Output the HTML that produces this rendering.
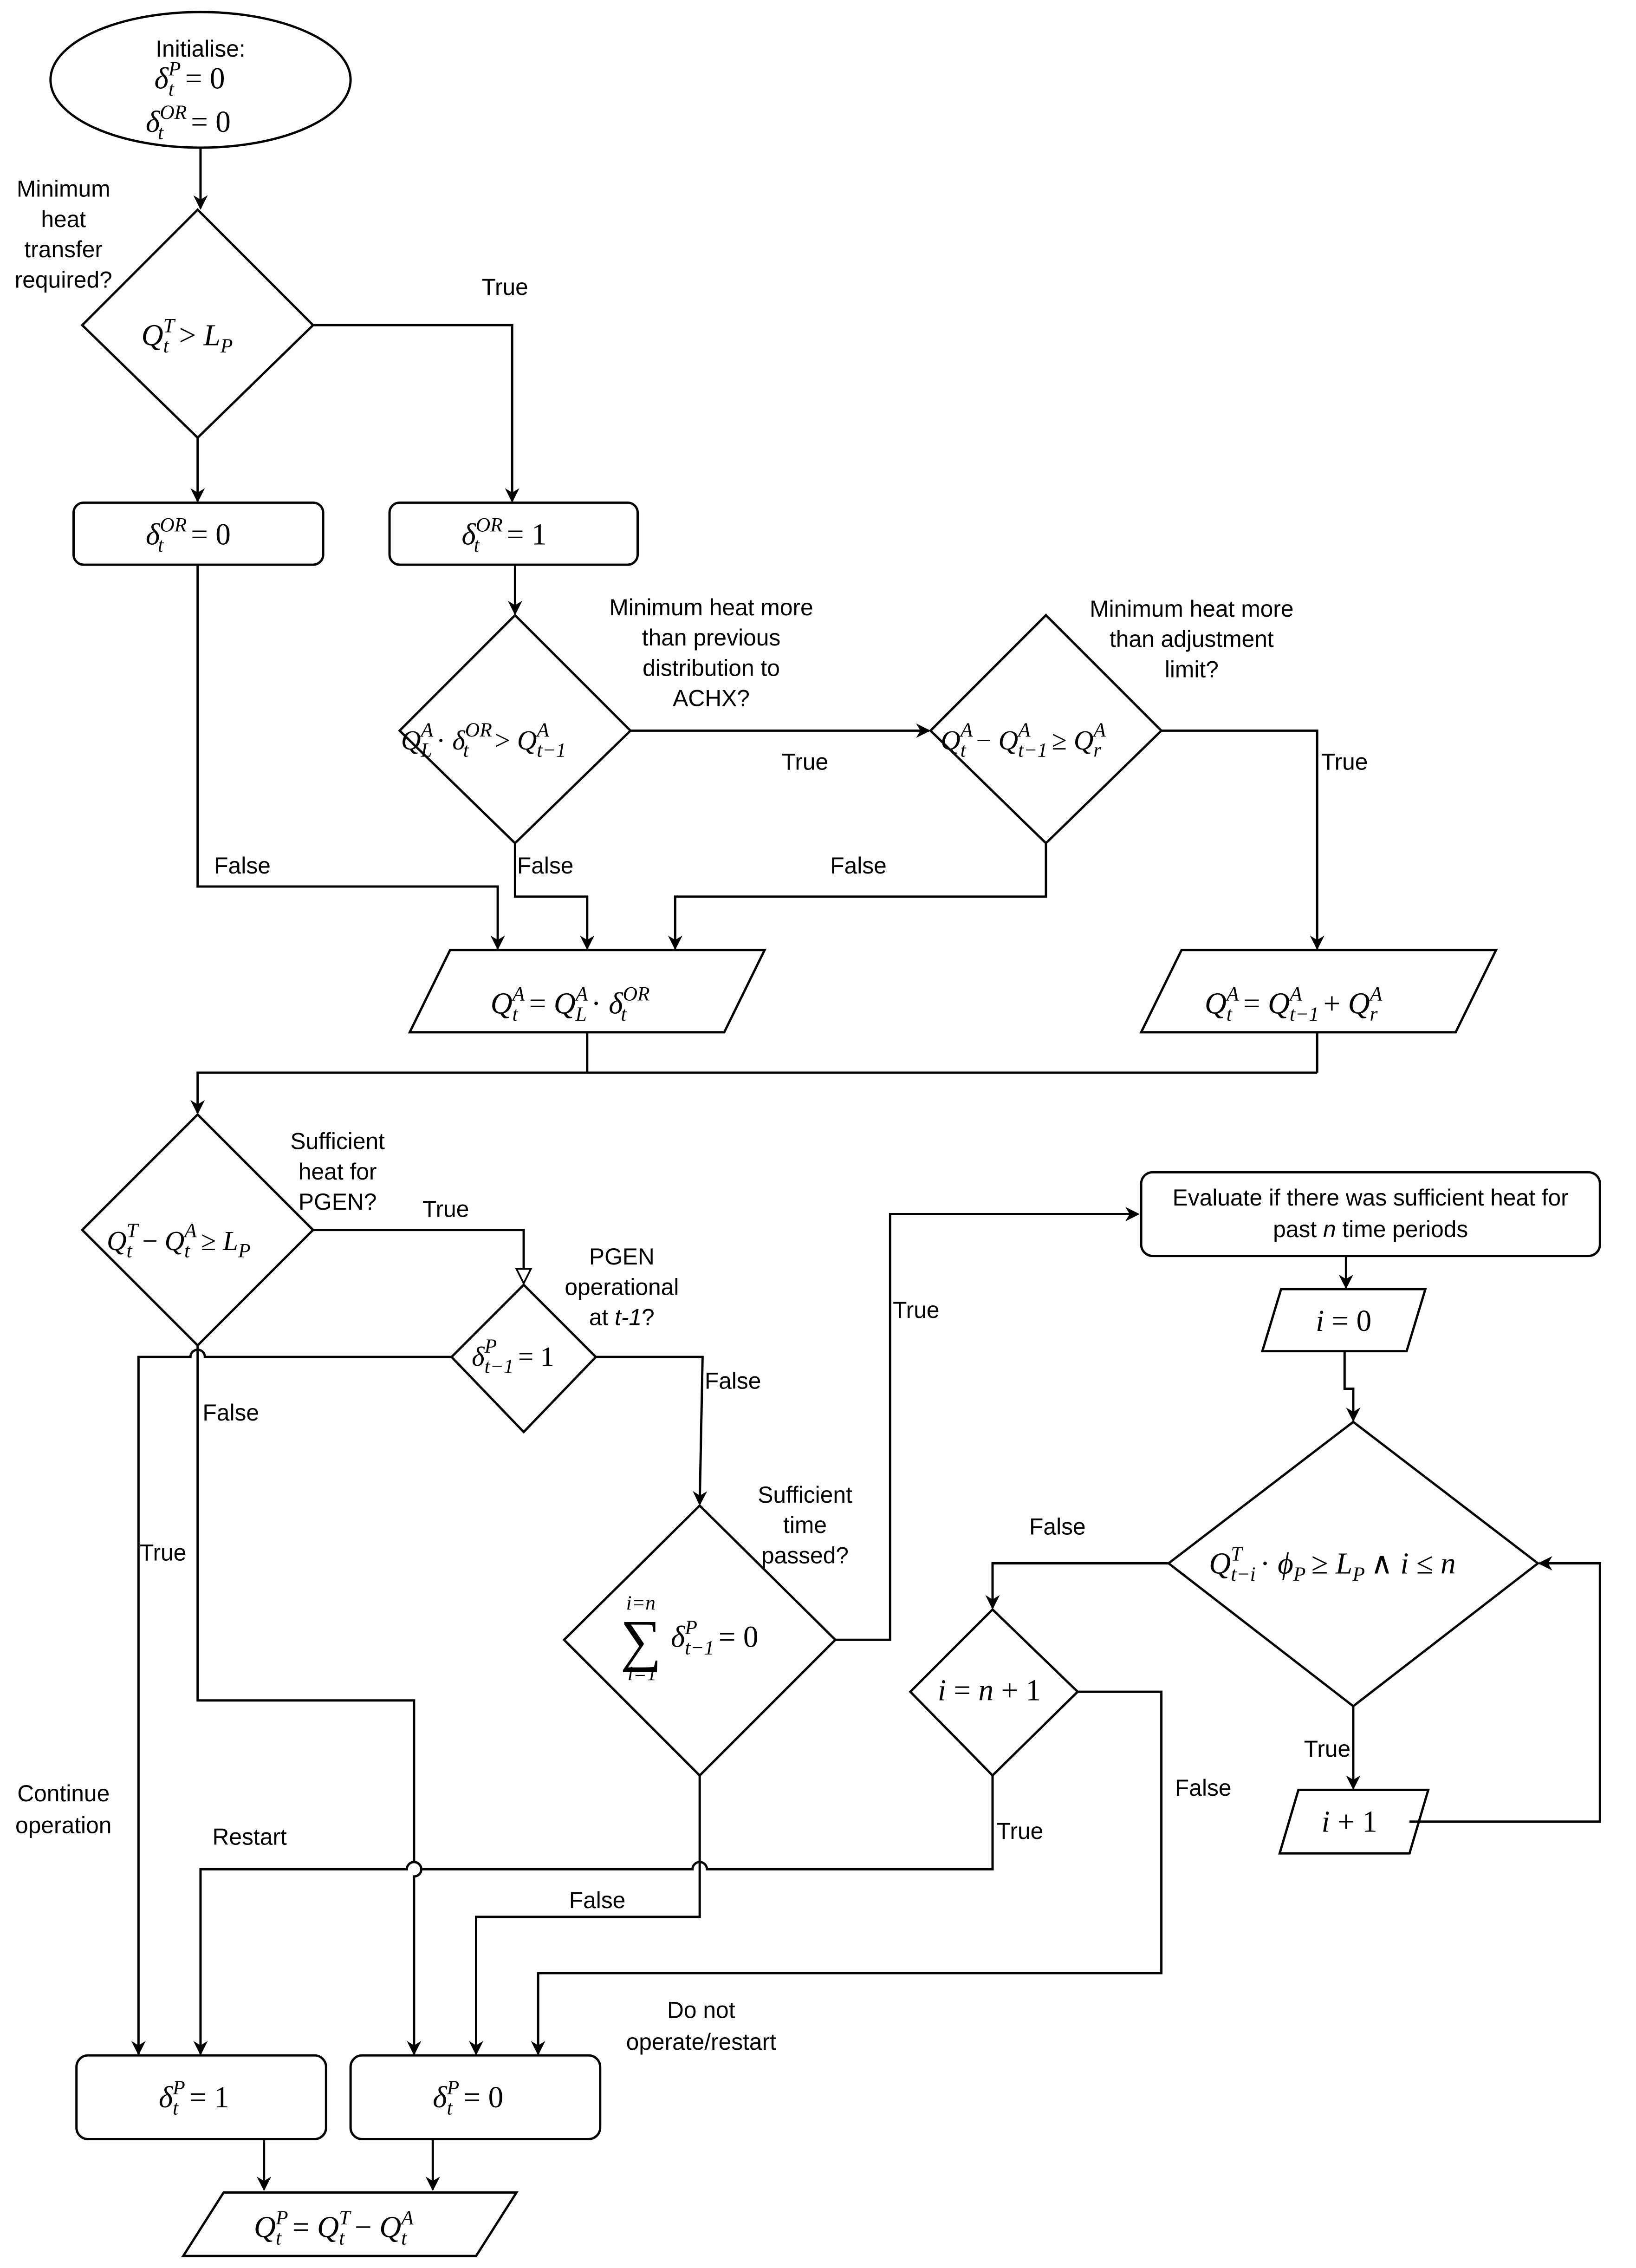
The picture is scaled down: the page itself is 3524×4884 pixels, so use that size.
<!DOCTYPE html>
<html><head><meta charset="utf-8">
<style>
html,body{margin:0;padding:0;background:#fff;}
svg{display:block;}
.s{font-family:"Liberation Sans",sans-serif;font-size:16px;fill:#000;}
.m{font-family:"Liberation Serif",serif;font-size:21px;fill:#000;}
.i{font-style:italic;}
.sm{font-size:14px;}
</style></head>
<body>
<svg width="3524" height="4884" viewBox="0 0 1134 1571" xmlns="http://www.w3.org/2000/svg">
<defs>
<marker id="a" markerWidth="10" markerHeight="10" refX="9" refY="5" orient="auto" markerUnits="userSpaceOnUse">
<path d="M0,0 L10,5 L0,10 L3,5 Z" fill="#000"/></marker>
<marker id="h" markerWidth="12" markerHeight="12" refX="11" refY="6" orient="auto" markerUnits="userSpaceOnUse">
<path d="M1,1 L11,6 L1,11 Z" fill="#fff" stroke="#000" stroke-width="1.2"/></marker>
</defs>
<rect width="1134" height="1571" fill="#fff"/>
<g fill="#fff" stroke="#000" stroke-width="1.6">
<ellipse cx="139" cy="55" rx="104" ry="47"/>
<polygon points="137,145 217,225 137,303 57,225"/>
<rect x="51" y="348" width="173" height="43" rx="7"/>
<rect x="270" y="348" width="172" height="43" rx="7"/>
<polygon points="357,426 437,506 357,584 277,506"/>
<polygon points="725,426 805,506 725,584 645,506"/>
<polygon points="312,658 530,658 502,715 284,715"/>
<polygon points="819,658 1037,658 1009,715 791,715"/>
<polygon points="137,772 217,852 137,932 57,852"/>
<polygon points="363,890 413,940 363,992 313,940"/>
<polygon points="485,1043 579,1136 485,1230 391,1136"/>
<rect x="791" y="812" width="318" height="58" rx="8"/>
<polygon points="888,893 988,893 975,936 875,936"/>
<polygon points="938,985 1066,1083 938,1182 810,1083"/>
<polygon points="688,1115 747,1172 688,1230 631,1172"/>
<polygon points="900,1240 990,1240 977,1284 887,1284"/>
<rect x="53" y="1424" width="173" height="58" rx="8"/>
<rect x="243" y="1424" width="173" height="58" rx="8"/>
<polygon points="155,1519 358,1519 330,1563 127,1563"/>
</g>
<g fill="none" stroke="#000" stroke-width="1.6">
<path d="M139,102 V144" marker-end="url(#a)"/>
<path d="M217,225 H355 V347" marker-end="url(#a)"/>
<path d="M137,303 V347" marker-end="url(#a)"/>
<path d="M137,391 V614 H345 V657" marker-end="url(#a)"/>
<path d="M357,391 V425" marker-end="url(#a)"/>
<path d="M437,506 H644" marker-end="url(#a)"/>
<path d="M805,506 H913 V657" marker-end="url(#a)"/>
<path d="M725,584 V621 H468 V657" marker-end="url(#a)"/>
<path d="M357,584 V621 H407 V657" marker-end="url(#a)"/>
<path d="M407,715 V743 M913,715 V743 M913,743 H137 V771" marker-end="url(#a)"/>
<path d="M217,852 H363 V889" marker-end="url(#h)"/>
<path d="M313,940 H142 a5,5 0 0 0 -10,0 H96 V1423" marker-end="url(#a)"/>
<path d="M137,932 V1178 H287 V1290 a5,5 0 0 1 0,10 V1423" marker-end="url(#a)"/>
<path d="M413,940 H487 L485,1042" marker-end="url(#a)"/>
<path d="M579,1136 H617 V841 H789" marker-end="url(#a)"/>
<path d="M933,870 V892" marker-end="url(#a)"/>
<path d="M932,936 V962 H938 V984" marker-end="url(#a)"/>
<path d="M810,1083 H688 V1114" marker-end="url(#a)"/>
<path d="M938,1182 V1239" marker-end="url(#a)"/>
<path d="M977,1262 H1109 V1083 H1067" marker-end="url(#a)"/>
<path d="M747,1172 H805 V1367 H373 V1423" marker-end="url(#a)"/>
<path d="M688,1230 V1295 H490 a5,5 0 0 0 -10,0 H292 a5,5 0 0 0 -10,0 H139 V1423" marker-end="url(#a)"/>
<path d="M485,1230 V1328 H330 V1423" marker-end="url(#a)"/>
<path d="M183,1482 V1517" marker-end="url(#a)"/>
<path d="M300,1482 V1517" marker-end="url(#a)"/>
</g>
<g class="s" text-anchor="middle">
<text x="139" y="39">Initialise:</text>
<text x="44" y="136">Minimum</text><text x="44" y="157">heat</text><text x="44" y="178">transfer</text><text x="44" y="199">required?</text>
<text x="350" y="204">True</text>
<text x="493" y="426">Minimum heat more</text><text x="493" y="447">than previous</text><text x="493" y="468">distribution to</text><text x="493" y="489">ACHX?</text>
<text x="826" y="427">Minimum heat more</text><text x="826" y="448">than adjustment</text><text x="826" y="469">limit?</text>
<text x="558" y="533">True</text><text x="932" y="533">True</text>
<text x="168" y="605">False</text><text x="378" y="605">False</text><text x="595" y="605">False</text>
<text x="234" y="796">Sufficient</text><text x="234" y="817">heat for</text><text x="234" y="838">PGEN?</text>
<text x="309" y="843">True</text>
<text x="431" y="876">PGEN</text><text x="431" y="897">operational</text><text x="431" y="918">at <tspan font-style="italic">t-1</tspan>?</text>
<text x="508" y="962">False</text><text x="160" y="984">False</text>
<text x="635" y="913">True</text>
<text x="558" y="1041">Sufficient</text><text x="558" y="1062">time</text><text x="558" y="1083">passed?</text>
<text x="113" y="1081">True</text>
<text x="733" y="1063">False</text>
<text x="920" y="1217">True</text><text x="834" y="1244">False</text><text x="707" y="1274">True</text>
<text x="44" y="1248">Continue</text><text x="44" y="1270">operation</text>
<text x="173" y="1278">Restart</text>
<text x="414" y="1322">False</text>
<text x="486" y="1398">Do not</text><text x="486" y="1420">operate/restart</text>
<text x="950" y="835">Evaluate if there was sufficient heat for</text>
<text x="950" y="857">past <tspan font-style="italic">n</tspan> time periods</text>
</g>
<g class="m">
<text x="107" y="61"><tspan class="i">δ</tspan><tspan class="sm i" dy="-9">P</tspan><tspan class="sm i" dx="-8.6" dy="14">t</tspan><tspan dx="7.7" dy="-5">= 0</tspan></text>
<text x="101" y="91"><tspan class="i">δ</tspan><tspan class="sm i" dy="-9">OR</tspan><tspan class="sm i" dx="-20" dy="14">t</tspan><tspan dx="19" dy="-5">= 0</tspan></text>
<text x="98" y="239"><tspan class="i">Q</tspan><tspan class="sm i" dy="-9">T</tspan><tspan class="sm i" dx="-7.8" dy="14">t</tspan><tspan dx="7" dy="-5">&gt; </tspan><tspan class="i">L</tspan><tspan class="sm i" dy="5">P</tspan></text>
<text x="101" y="377"><tspan class="i">δ</tspan><tspan class="sm i" dy="-9">OR</tspan><tspan class="sm i" dx="-20" dy="14">t</tspan><tspan dx="19" dy="-5">= 0</tspan></text>
<text x="320" y="377"><tspan class="i">δ</tspan><tspan class="sm i" dy="-9">OR</tspan><tspan class="sm i" dx="-20" dy="14">t</tspan><tspan dx="19" dy="-5">= 1</tspan></text>
<text x="278" y="519" font-size="19"><tspan class="i">Q</tspan><tspan class="sm i" dy="-9">A</tspan><tspan class="sm i" dx="-8.6" dy="14">L</tspan><tspan dx="3" dy="-5">· </tspan><tspan class="i">δ</tspan><tspan class="sm i" dy="-9">OR</tspan><tspan class="sm i" dx="-20" dy="14">t</tspan><tspan dx="18" dy="-5">&gt; </tspan><tspan class="i">Q</tspan><tspan class="sm i" dy="-9">A</tspan><tspan class="sm i" dx="-8.6" dy="14">t−1</tspan></text>
<text x="652" y="519" font-size="19"><tspan class="i">Q</tspan><tspan class="sm i" dy="-9">A</tspan><tspan class="sm i" dx="-8.6" dy="14">t</tspan><tspan dx="7" dy="-5">− </tspan><tspan class="i">Q</tspan><tspan class="sm i" dy="-9">A</tspan><tspan class="sm i" dx="-8.6" dy="14">t−1</tspan><tspan dx="3" dy="-5">≥ </tspan><tspan class="i">Q</tspan><tspan class="sm i" dy="-9">A</tspan><tspan class="sm i" dx="-8.6" dy="14">r</tspan></text>
<text x="340" y="702"><tspan class="i">Q</tspan><tspan class="sm i" dy="-9">A</tspan><tspan class="sm i" dx="-8.6" dy="14">t</tspan><tspan dx="7.7" dy="-5">= </tspan><tspan class="i">Q</tspan><tspan class="sm i" dy="-9">A</tspan><tspan class="sm i" dx="-8.6" dy="14">L</tspan><tspan dx="3" dy="-5">· </tspan><tspan class="i">δ</tspan><tspan class="sm i" dy="-9">OR</tspan><tspan class="sm i" dx="-20" dy="14">t</tspan></text>
<text x="835" y="702"><tspan class="i">Q</tspan><tspan class="sm i" dy="-9">A</tspan><tspan class="sm i" dx="-8.6" dy="14">t</tspan><tspan dx="7.7" dy="-5">= </tspan><tspan class="i">Q</tspan><tspan class="sm i" dy="-9">A</tspan><tspan class="sm i" dx="-8.6" dy="14">t−1</tspan><tspan dx="3" dy="-5">+ </tspan><tspan class="i">Q</tspan><tspan class="sm i" dy="-9">A</tspan><tspan class="sm i" dx="-8.6" dy="14">r</tspan></text>
<text x="74" y="866" font-size="19"><tspan class="i">Q</tspan><tspan class="sm i" dy="-9">T</tspan><tspan class="sm i" dx="-7.8" dy="14">t</tspan><tspan dx="7" dy="-5">− </tspan><tspan class="i">Q</tspan><tspan class="sm i" dy="-9">A</tspan><tspan class="sm i" dx="-8.6" dy="14">t</tspan><tspan dx="7.7" dy="-5">≥ </tspan><tspan class="i">L</tspan><tspan class="sm i" dy="5">P</tspan></text>
<text x="327" y="946" font-size="19"><tspan class="i">δ</tspan><tspan class="sm i" dy="-9">P</tspan><tspan class="sm i" dx="-8.6" dy="14">t−1</tspan><tspan dx="3" dy="-5">= 1</tspan></text>
<text x="430" y="1150" font-size="40">∑</text>
<text x="434" y="1115" class="sm i">i=n</text>
<text x="435" y="1164" class="sm i">i=1</text>
<text x="465" y="1141"><tspan class="i">δ</tspan><tspan class="sm i" dy="-9">P</tspan><tspan class="sm i" dx="-8.6" dy="14">t−1</tspan><tspan dx="3" dy="-5">= 0</tspan></text>
<text x="912" y="922"><tspan class="i">i</tspan> = 0</text>
<text x="838" y="1090"><tspan class="i">Q</tspan><tspan class="sm i" dy="-9">T</tspan><tspan class="sm i" dx="-7.8" dy="14">t−i</tspan><tspan dx="3" dy="-5">· </tspan><tspan class="i">ϕ</tspan><tspan class="sm i" dy="5">P</tspan><tspan dx="4" dy="-5">≥ </tspan><tspan class="i">L</tspan><tspan class="sm i" dy="5">P</tspan><tspan dx="4" dy="-5">∧ </tspan><tspan class="i">i</tspan> ≤ <tspan class="i">n</tspan></text>
<text x="650" y="1178"><tspan class="i">i</tspan> = <tspan class="i">n</tspan> + 1</text>
<text x="916" y="1269"><tspan class="i">i</tspan> + 1</text>
<text x="110" y="1460"><tspan class="i">δ</tspan><tspan class="sm i" dy="-9">P</tspan><tspan class="sm i" dx="-8.6" dy="14">t</tspan><tspan dx="7.7" dy="-5">= 1</tspan></text>
<text x="300" y="1460"><tspan class="i">δ</tspan><tspan class="sm i" dy="-9">P</tspan><tspan class="sm i" dx="-8.6" dy="14">t</tspan><tspan dx="7.7" dy="-5">= 0</tspan></text>
<text x="176" y="1550"><tspan class="i">Q</tspan><tspan class="sm i" dy="-9">P</tspan><tspan class="sm i" dx="-8.6" dy="14">t</tspan><tspan dx="7.7" dy="-5">= </tspan><tspan class="i">Q</tspan><tspan class="sm i" dy="-9">T</tspan><tspan class="sm i" dx="-7.8" dy="14">t</tspan><tspan dx="7" dy="-5">− </tspan><tspan class="i">Q</tspan><tspan class="sm i" dy="-9">A</tspan><tspan class="sm i" dx="-8.6" dy="14">t</tspan></text>
</g>
</svg>
</body></html>
